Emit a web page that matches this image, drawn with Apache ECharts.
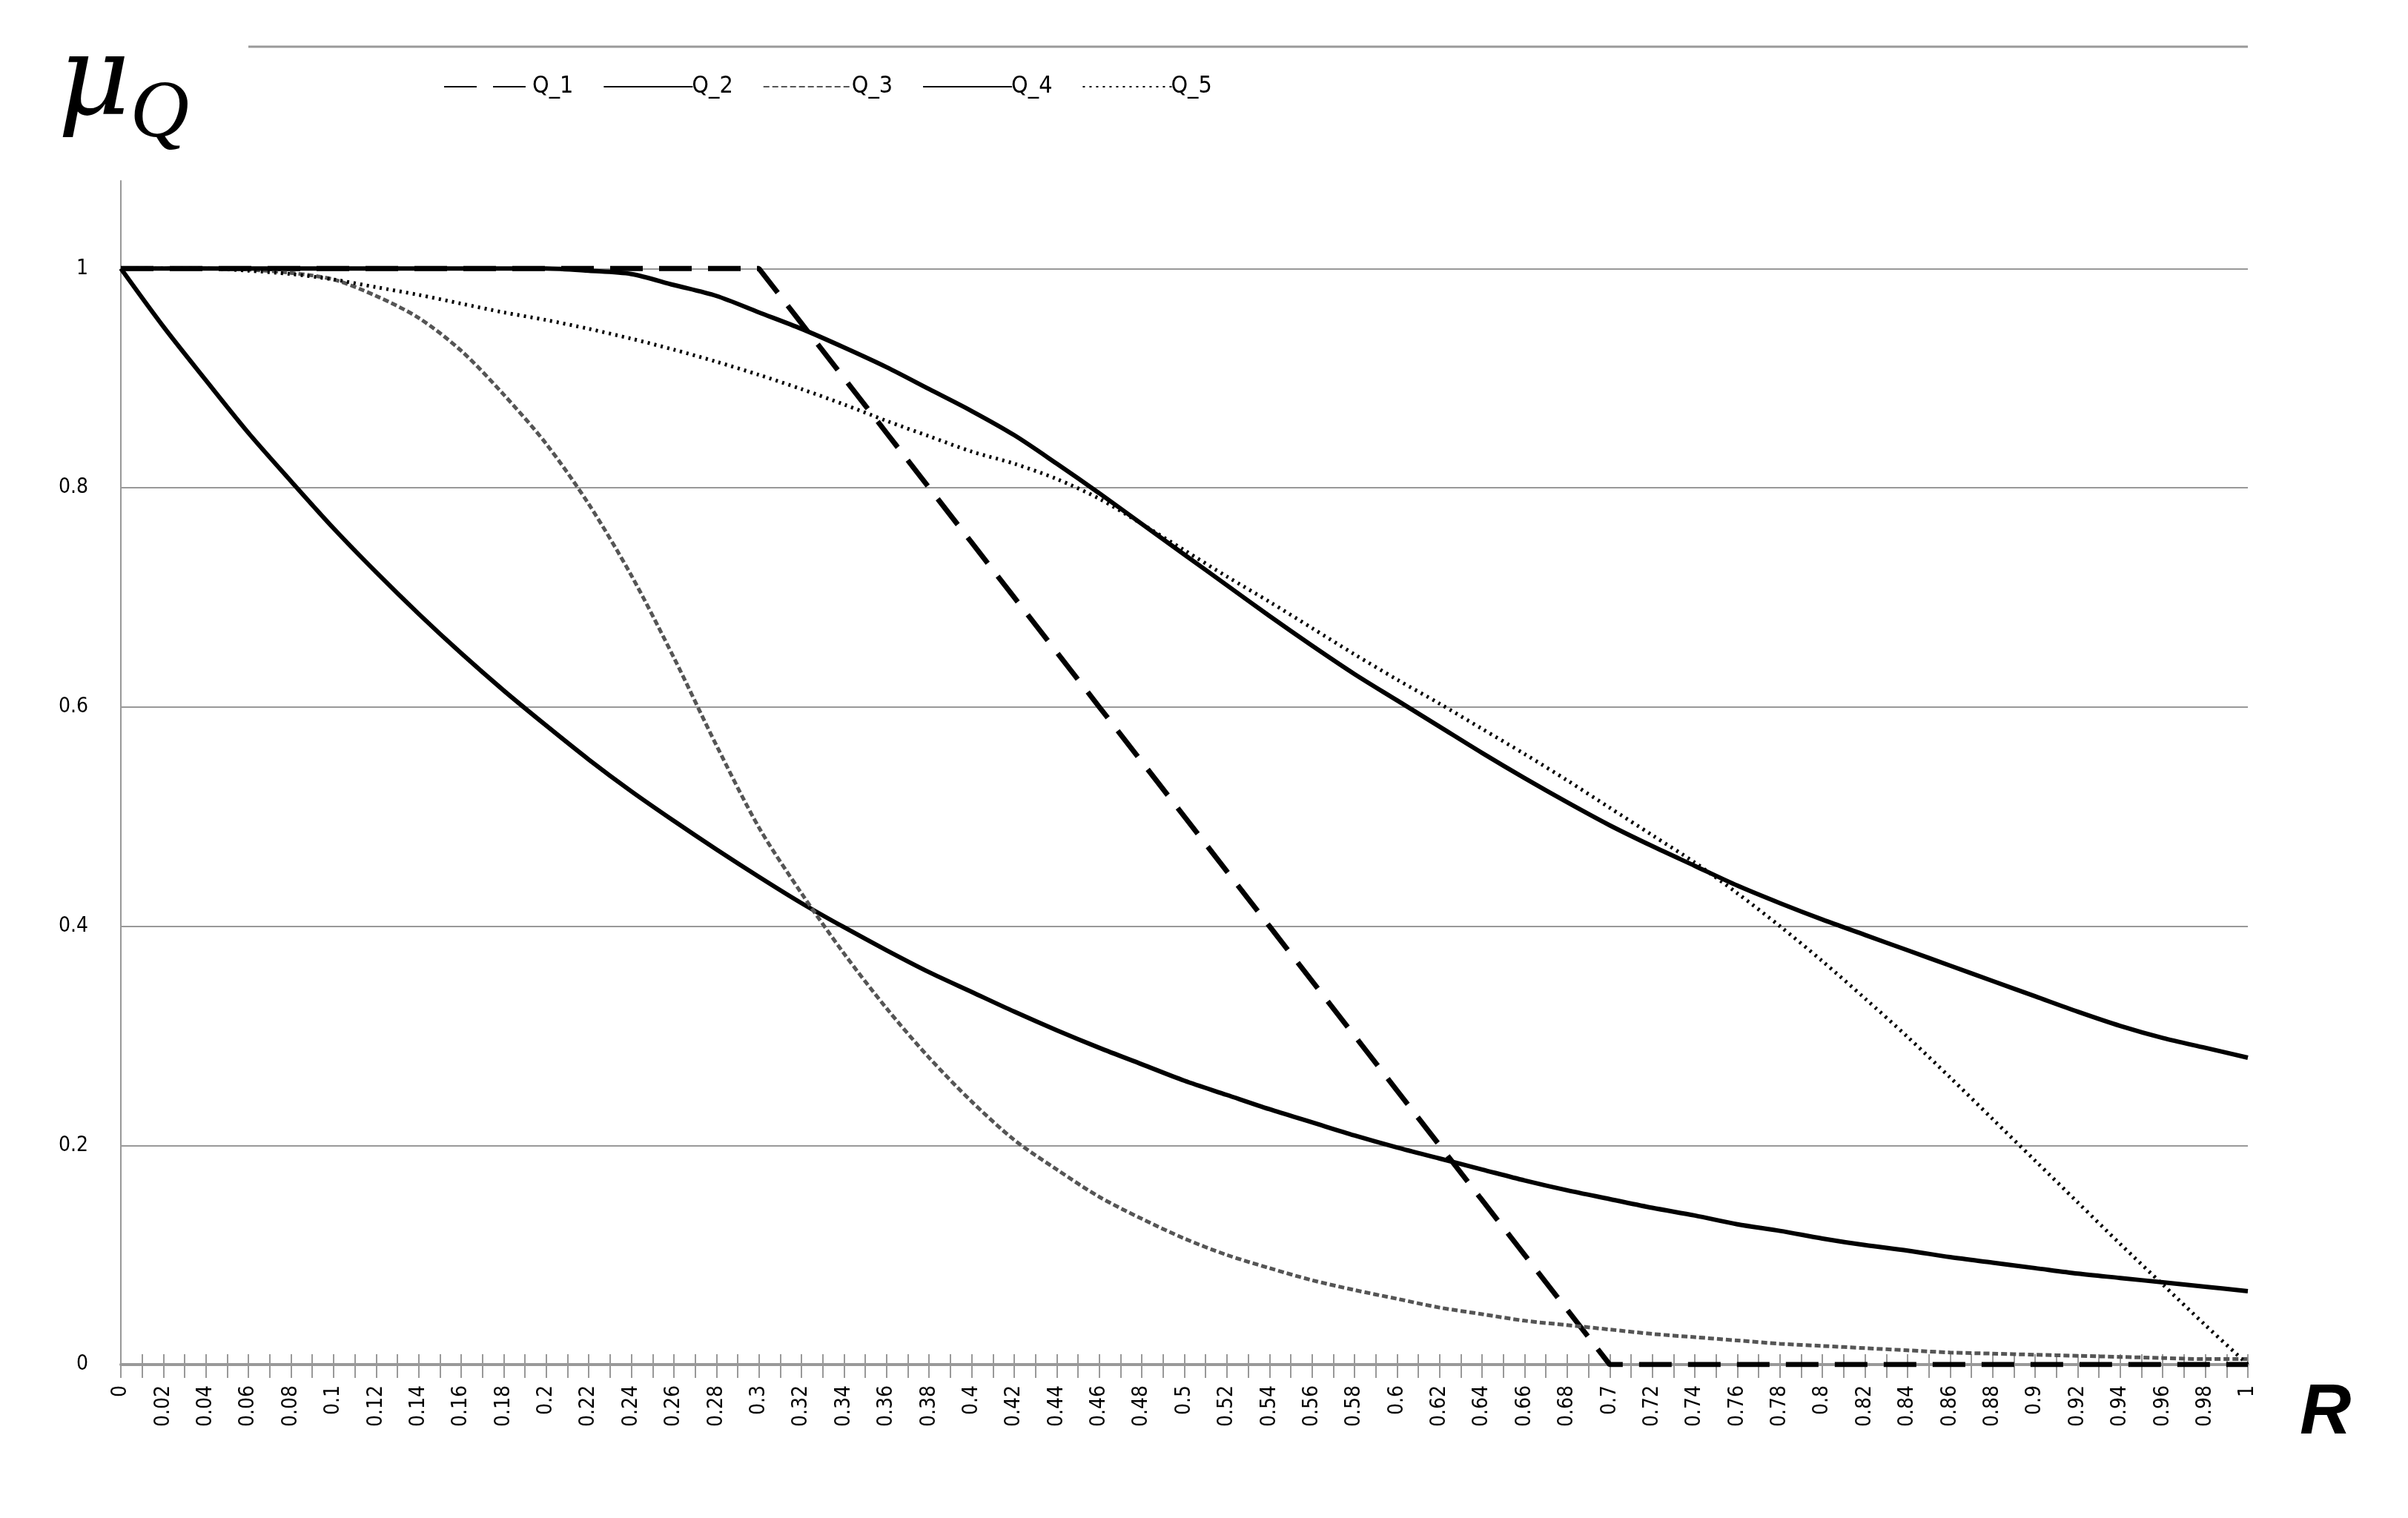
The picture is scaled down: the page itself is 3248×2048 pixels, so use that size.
<!DOCTYPE html>
<html lang="en">
<head>
  <meta charset="UTF-8">
  <title>mu_Q vs R</title>
  <style>
    html, body { margin: 0; padding: 0; background: #fff; }
    #main { width: 3248px; height: 2048px; }
  </style>
</head>
<body>
  <div id="main"></div>
  <script src="https://cdn.jsdelivr.net/npm/echarts@6/dist/echarts.min.js"></script>
  <script>
    // R values, step 0.02
    var rValues = [0, 0.02, 0.04, 0.06, 0.08, 0.1, 0.12, 0.14, 0.16, 0.18, 0.2, 0.22, 0.24, 0.26, 0.28, 0.3,
      0.32, 0.34, 0.36, 0.38, 0.4, 0.42, 0.44, 0.46, 0.48, 0.5, 0.52, 0.54, 0.56, 0.58, 0.6, 0.62, 0.64, 0.66,
      0.68, 0.7, 0.72, 0.74, 0.76, 0.78, 0.8, 0.82, 0.84, 0.86, 0.88, 0.9, 0.92, 0.94, 0.96, 0.98, 1];

    var q1 = [1, 1, 1, 1, 1, 1, 1, 1, 1, 1, 1, 1, 1, 1, 1, 1,
      0.95, 0.9, 0.85, 0.8, 0.75, 0.7, 0.65, 0.6, 0.55, 0.5, 0.45, 0.4, 0.35, 0.3, 0.25, 0.2, 0.15, 0.1,
      0.05, 0, 0, 0, 0, 0, 0, 0, 0, 0, 0, 0, 0, 0, 0, 0, 0];
    var q2 = [1, 0.947, 0.898, 0.85, 0.806, 0.763, 0.723, 0.685, 0.649, 0.615, 0.583, 0.552, 0.523, 0.496, 0.47, 0.445,
      0.421, 0.399, 0.378, 0.358, 0.34, 0.322, 0.305, 0.289, 0.274, 0.259, 0.246, 0.233, 0.221, 0.209, 0.198, 0.188, 0.178, 0.168,
      0.159, 0.151, 0.143, 0.136, 0.128, 0.122, 0.115, 0.109, 0.104, 0.098, 0.093, 0.088, 0.083, 0.079, 0.075, 0.071, 0.067];
    var q3 = [1, 1, 1, 0.999, 0.996, 0.99, 0.975, 0.955, 0.925, 0.885, 0.84, 0.785, 0.72, 0.645, 0.565, 0.49,
      0.43, 0.375, 0.325, 0.28, 0.24, 0.205, 0.178, 0.153, 0.133, 0.115, 0.1, 0.088, 0.077, 0.068, 0.06, 0.052, 0.046, 0.04,
      0.036, 0.032, 0.028, 0.025, 0.022, 0.019, 0.017, 0.015, 0.013, 0.011, 0.01, 0.009, 0.008, 0.007, 0.006, 0.005, 0.005];
    var q4 = [1, 1, 1, 1, 1, 1, 1, 1, 1, 1, 1, 0.998, 0.995, 0.985, 0.975, 0.96,
      0.945, 0.928, 0.91, 0.89, 0.87, 0.848, 0.822, 0.795, 0.767, 0.739, 0.711, 0.683, 0.656, 0.63, 0.606, 0.582, 0.558, 0.535,
      0.513, 0.492, 0.473, 0.455, 0.437, 0.421, 0.406, 0.392, 0.378, 0.364, 0.35, 0.336, 0.322, 0.309, 0.298, 0.289, 0.28];
    var q5 = [1, 1, 1, 0.998, 0.995, 0.99, 0.983, 0.976, 0.968, 0.96, 0.953, 0.945, 0.936, 0.926, 0.915, 0.903,
      0.89, 0.876, 0.861, 0.847, 0.833, 0.822, 0.808, 0.79, 0.767, 0.743, 0.719, 0.696, 0.672, 0.648, 0.625, 0.603, 0.58, 0.557,
      0.533, 0.508, 0.483, 0.458, 0.43, 0.4, 0.368, 0.334, 0.299, 0.262, 0.224, 0.186, 0.148, 0.11, 0.073, 0.036, 0];

    var seriesNames = ['Q_1', 'Q_2', 'Q_3', 'Q_4', 'Q_5'];
    var yTicks = [0, 0.2, 0.4, 0.6, 0.8, 1];

    function pairs(vals) {
      return rValues.map(function (r, i) { return [r, vals[i]]; });
    }

    var font = '"DejaVu Sans Condensed", "DejaVu Sans", sans-serif';
    var myChart = echarts.init(document.getElementById('main'));

    function lineSeries(name, vals, style) {
      return {
        name: name,
        type: 'line',
        data: pairs(vals),
        showSymbol: false,
        symbol: 'none',
        smooth: name === 'Q_1' ? false : 0.3,
        animation: false,
        itemStyle: { color: '#000', opacity: 0 },
        lineStyle: style,
        z: 5
      };
    }

    var option = {
      backgroundColor: '#fff',
      animation: false,
      grid: { left: 163, right: 216, top: 244, bottom: 207 },
      legend: {
        top: 96,
        left: 593,
        itemWidth: 120,
        itemHeight: 14,
        itemGap: 40,
        data: seriesNames,
        itemStyle: { opacity: 0 },
        textStyle: { fontFamily: font, fontSize: 32, color: '#000', padding: [0, 0, 0, -6] }
      },
      xAxis: [{
        type: 'value',
        min: 0,
        max: 1,
        interval: 0.02,
        axisLine: { lineStyle: { color: '#999', width: 4 } },
        axisTick: { length: 18, lineStyle: { color: '#999', width: 2 } },
        minorTick: { show: true, splitNumber: 2, length: 18, lineStyle: { color: '#999', width: 2 } },
        splitLine: { show: false },
        axisLabel: {
          rotate: 90,
          fontFamily: font,
          fontSize: 28,
          color: '#000',
          margin: 28,
          formatter: function (v) { return String(+v.toFixed(2)); }
        }
      }, {
        type: 'value',
        position: 'bottom',
        min: 0,
        max: 1,
        interval: 0.02,
        axisLine: { show: false },
        axisTick: { inside: true, length: 14, lineStyle: { color: '#999', width: 2 } },
        minorTick: { show: true, splitNumber: 2, length: 14, lineStyle: { color: '#999', width: 2 } },
        splitLine: { show: false },
        axisLabel: { show: false }
      }],
      yAxis: {
        type: 'value',
        min: 0,
        max: 1.08,
        interval: 0.2,
        axisLine: { show: true, lineStyle: { color: '#999', width: 2 } },
        axisTick: { show: false },
        splitLine: { showMaxLine: false, lineStyle: { color: '#999', width: 2 } },
        axisLabel: {
          fontFamily: font,
          fontSize: 28,
          color: '#000',
          margin: 44,
          showMaxLabel: false,
          formatter: function (v) { return yTicks.indexOf(+v.toFixed(2)) >= 0 ? String(+v.toFixed(2)) : ''; }
        }
      },
      series: [
        lineSeries('Q_1', q1, { color: '#000', width: 7, type: [44, 22] }),
        lineSeries('Q_2', q2, { color: '#000', width: 6 }),
        lineSeries('Q_3', q3, { color: '#555', width: 5, type: [8, 4] }),
        lineSeries('Q_4', q4, { color: '#000', width: 6 }),
        lineSeries('Q_5', q5, { color: '#000', width: 5, type: [3, 6] })
      ],
      graphic: [
        { type: 'line', shape: { x1: 335, y1: 63, x2: 3032, y2: 63 }, style: { stroke: '#999', lineWidth: 3 } },
        {
          type: 'text', left: 78, top: 40,
          style: {
            text: '{m|μ}{q|Q}',
            rich: {
              m: { fontFamily: '"DejaVu Serif", serif', fontStyle: 'italic', fontSize: 150, fill: '#000', verticalAlign: 'top' },
              q: { fontFamily: '"Liberation Serif", serif', fontStyle: 'italic', fontSize: 110, fill: '#000', padding: [60, 0, 0, 0] }
            }
          }
        },
        {
          type: 'text', left: 3102, top: 1860,
          style: { text: 'R', fontFamily: '"Liberation Sans", sans-serif', fontStyle: 'italic', fontWeight: 'bold', fontSize: 96, fill: '#000' }
        }
      ]
    };

    myChart.setOption(option);
  </script>
</body>
</html>
